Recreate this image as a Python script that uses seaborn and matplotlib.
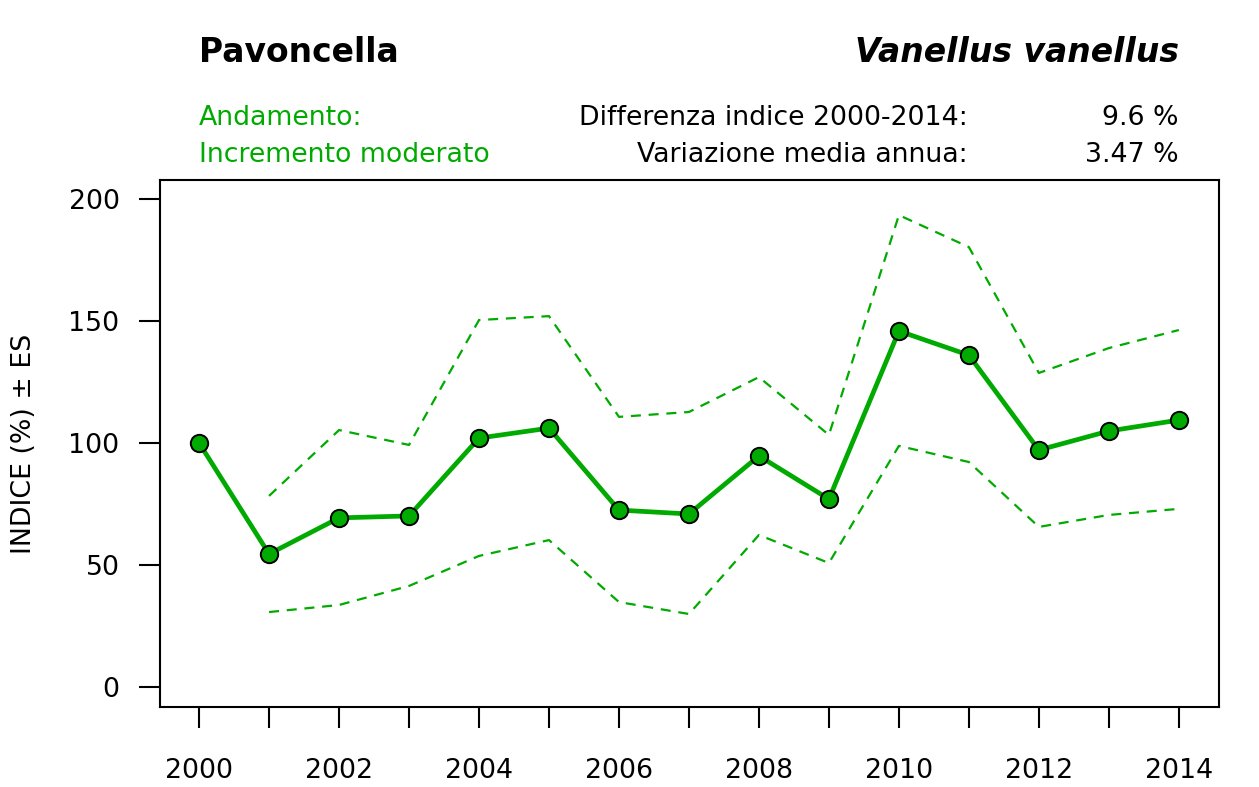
import matplotlib
matplotlib.use("Agg")
import matplotlib.pyplot as plt
import seaborn as sns

years = [2000, 2001, 2002, 2003, 2004, 2005, 2006, 2007,
         2008, 2009, 2010, 2011, 2012, 2013, 2014]
indice = [100, 54.5, 69.3, 70.1, 102.0, 106.1, 72.5, 70.9,
          94.7, 77.0, 145.9, 136.0, 97.1, 104.9, 109.4]
# error band (from 2001)
es_years = years[1:]
upper = [78.3, 105.3, 99.2, 150.4, 152.0, 110.7, 112.7,
         127.0, 103.3, 193.4, 180.3, 128.7, 138.9, 146.3]
lower = [30.7, 33.6, 41.4, 53.7, 60.2, 34.8, 29.9,
         62.3, 50.8, 98.8, 92.2, 65.6, 70.5, 73.0]
yticks = [0, 50, 100, 150, 200]

green = "#00aa00"

sns.set_style("ticks")
plt.rcParams["font.family"] = ["DejaVu Sans"]
plt.rcParams["text.color"] = "black"
plt.rcParams["axes.labelcolor"] = "black"
plt.rcParams["xtick.color"] = "black"
plt.rcParams["ytick.color"] = "black"

fs = 19.3

fig = plt.figure(figsize=(12.59, 7.87), dpi=100)
ax = fig.add_axes([0.127, 0.1017, 0.841, 0.6696])

sns.lineplot(x=es_years, y=upper, ax=ax, color=green, lw=1.6,
             dashes=False, linestyle=(0, (4.5, 3.5)))
sns.lineplot(x=es_years, y=lower, ax=ax, color=green, lw=1.6,
             dashes=False, linestyle=(0, (4.5, 3.5)))
sns.lineplot(x=years, y=indice, ax=ax, color=green, lw=3.4,
             marker="o", markersize=12.5, markerfacecolor=green,
             markeredgecolor="black", markeredgewidth=1.4)

ax.set_xlim(1999.44, 2014.57)
ax.set_ylim(-8.2, 207.8)
ax.set_xticks(years)
ax.set_xticklabels([str(y) if y % 2 == 0 else "" for y in years])
ax.set_yticks(yticks)
ax.set_yticklabels([str(v) for v in yticks])
ax.tick_params(axis="x", bottom=True, length=15, width=1.5, pad=22,
               labelsize=fs, color="black", labelcolor="black")
ax.tick_params(axis="y", left=True, length=15, width=1.5, pad=14,
               labelsize=fs, color="black", labelcolor="black")
for s in ax.spines.values():
    s.set_visible(True)
    s.set_color("black")
    s.set_linewidth(1.5)
ax.set_ylabel("INDICE (%) ± ES", fontsize=fs, color="black")
ax.yaxis.set_label_coords(-0.116, 0.5)

W, H = 1259, 787
def fx(px):
    return px / W
def fy(py):
    return 1 - py / H

fig.text(fx(199), fy(52), "Pavoncella", fontsize=23.8, fontweight="bold",
         ha="left", va="center")
fig.text(fx(1179), fy(52), "Vanellus vanellus", fontsize=23.8, fontweight="bold",
         style="italic", ha="right", va="center")
fig.text(fx(199), fy(118), "Andamento:", fontsize=fs, color=green, ha="left", va="center")
fig.text(fx(199), fy(155), "Incremento moderato", fontsize=fs, color=green,
         ha="left", va="center")
fig.text(fx(968), fy(118), "Differenza indice 2000-2014:", fontsize=fs,
         ha="right", va="center")
fig.text(fx(968), fy(155), "Variazione media annua:", fontsize=fs,
         ha="right", va="center")
fig.text(fx(1179), fy(118), "9.6 %", fontsize=fs, ha="right", va="center")
fig.text(fx(1179), fy(155), "3.47 %", fontsize=fs, ha="right", va="center")

fig.savefig("out.png", dpi=100)
